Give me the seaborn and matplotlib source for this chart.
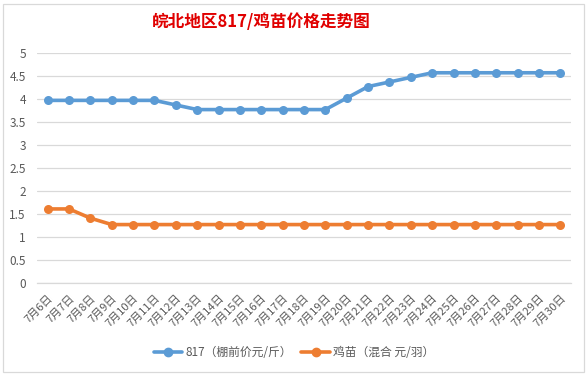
import matplotlib
matplotlib.use("Agg")
import matplotlib.pyplot as plt
from matplotlib.patches import Rectangle
import pandas as pd
import seaborn as sns

dates = [f"7月{d}日" for d in range(6, 31)]
price_817 = [3.97, 3.97, 3.97, 3.97, 3.97, 3.97, 3.87, 3.77, 3.77, 3.77,
             3.77, 3.77, 3.77, 3.77, 4.02, 4.27, 4.37, 4.47, 4.57, 4.57,
             4.57, 4.57, 4.57, 4.57, 4.57]
price_chick = [1.61, 1.61, 1.41, 1.27, 1.27, 1.27, 1.27, 1.27, 1.27, 1.27,
               1.27, 1.27, 1.27, 1.27, 1.27, 1.27, 1.27, 1.27, 1.27, 1.27,
               1.27, 1.27, 1.27, 1.27, 1.27]
series_names = ["817（棚前价元/斤）", "鸡苗（混合 元/羽）"]
colors = ["#5B9BD5", "#ED7D31"]

sns.set_style("white")
plt.rcParams["font.family"] = ["Noto Sans CJK SC", "DejaVu Sans"]

df = pd.DataFrame({
    "x": list(range(len(dates))) * 2,
    "price": price_817 + price_chick,
    "series": [series_names[0]] * len(dates) + [series_names[1]] * len(dates),
})

fig = plt.figure(figsize=(5.88, 3.76), dpi=100)
ax = fig.add_axes([37 / 588, 1 - 283 / 376, 534 / 588, 230 / 376])

sns.lineplot(data=df, x="x", y="price", hue="series", palette=colors,
             marker="o", markersize=6.5, markeredgewidth=0, linewidth=2.6,
             ax=ax, legend=False)

ax.set_xlim(-0.5, len(dates) - 0.5)
ax.set_ylim(0, 5)
ax.set_yticks([0, 0.5, 1, 1.5, 2, 2.5, 3, 3.5, 4, 4.5, 5])
ax.set_yticklabels(["0", "0.5", "1", "1.5", "2", "2.5", "3", "3.5", "4", "4.5", "5"])
ax.yaxis.grid(True, color="#D9D9D9", linewidth=0.9)
ax.tick_params(axis="y", length=0, pad=8, labelsize=8.5, labelcolor="#595959")

# category labels, tick marks on category boundaries like Excel
ax.set_xticks(range(len(dates)))
ax.set_xticklabels(dates, rotation=45, ha="right", rotation_mode="anchor")
ax.set_xticks([i - 0.5 for i in range(len(dates) + 1)], minor=True)
ax.tick_params(axis="x", which="major", length=0, pad=7, labelsize=8, labelcolor="#595959")
ax.tick_params(axis="x", which="minor", length=4, color="#D9D9D9", width=0.9)
ax.set_xlabel("")
ax.set_ylabel("")

for side in ["top", "right", "left"]:
    ax.spines[side].set_visible(False)
ax.spines["bottom"].set_color("#D9D9D9")
ax.spines["bottom"].set_linewidth(0.9)

handles = [plt.Line2D([], [], color=c, marker="o", markersize=6, linewidth=2.6)
           for c in colors]
fig.legend(handles, series_names, loc="center", bbox_to_anchor=(294 / 588, 1 - 353 / 376),
           ncol=2, frameon=False, fontsize=8.5, handlelength=2.4, columnspacing=0.8,
           handletextpad=0.3, labelcolor="#595959")

fig.text(261 / 588, 1 - 22 / 376, "皖北地区817/鸡苗价格走势图", ha="center", va="center",
         fontsize=12, fontweight="bold", color="#E00000")

fig.patches.append(Rectangle((3 / 588, 1 - 372 / 376), 581 / 588, 368 / 376,
                             transform=fig.transFigure, fill=False,
                             edgecolor="#D9D9D9", linewidth=0.9))

fig.savefig("out.png", dpi=100)
